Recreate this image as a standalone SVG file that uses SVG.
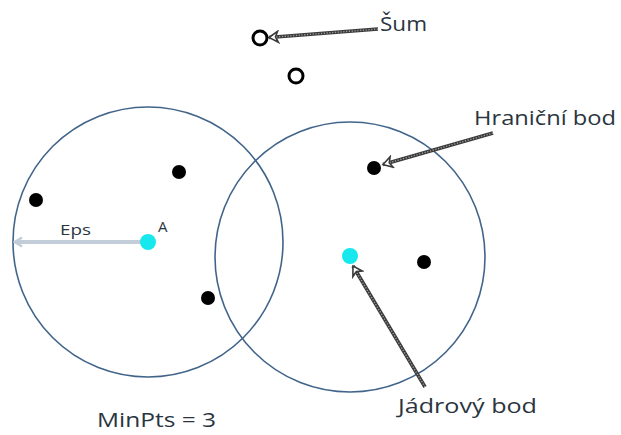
<svg xmlns="http://www.w3.org/2000/svg" width="621" height="435" viewBox="0 0 621 435">
  <style>
    .nbhd { fill: none; stroke: #41648a; stroke-width: 1.6; }
    .pt { fill: #000; }
    .core { fill: #16e8ee; }
    .noise { fill: #fff; stroke: #000; stroke-width: 3; }
    .lbl { font-family: "Open Sans", "Liberation Sans", sans-serif; fill: #2a3540; }
    .call-out { stroke: #3a3a3a; stroke-width: 3.6; fill: none; }
    .call-in { stroke: #a0a0a0; stroke-width: 1.4; stroke-dasharray: 1.2 1.6; fill: none; }
    .eps { stroke: #c3ccd9; stroke-width: 4; fill: none; }
  </style>
  <defs>
    <!-- open chevron head for the callout arrows; tip sits at the line end -->
    <marker id="openHead" markerWidth="14" markerHeight="14" refX="12" refY="7" orient="auto" markerUnits="userSpaceOnUse" viewBox="0 0 14 14">
      <path d="M3,1.5 L12,7 L3,12.5 L5.5,7 Z" fill="#fff" stroke="#3a3a3a" stroke-width="1.6" stroke-linejoin="miter"/>
    </marker>
    <marker id="epsHead" markerWidth="12" markerHeight="12" refX="10" refY="6" orient="auto" markerUnits="userSpaceOnUse" viewBox="0 0 12 12">
      <path d="M3,1.5 L10,6 L3,10.5" fill="none" stroke="#c3ccd9" stroke-width="2.5"/>
    </marker>
  </defs>

  <!-- Eps-neighbourhoods -->
  <g id="neighbourhood-A">
    <circle class="nbhd" cx="148" cy="242" r="135"/>
  </g>
  <g id="neighbourhood-core">
    <circle class="nbhd" cx="350" cy="257" r="135"/>
  </g>

  <!-- Connectors -->
  <g id="connectors">
    <line class="eps" x1="146" y1="242" x2="15" y2="242" marker-end="url(#epsHead)"/>
    <g id="arrow-noise">
      <line class="call-out" x1="378" y1="29" x2="269" y2="37.5" marker-end="url(#openHead)"/>
      <line class="call-in" x1="378" y1="29" x2="276" y2="37"/>
    </g>
    <g id="arrow-border">
      <line class="call-out" x1="493" y1="133" x2="383" y2="164.5" marker-end="url(#openHead)"/>
      <line class="call-in" x1="493" y1="133" x2="390" y2="162.5"/>
    </g>
    <g id="arrow-core">
      <line class="call-out" x1="425" y1="387" x2="353" y2="266" marker-end="url(#openHead)"/>
      <line class="call-in" x1="425" y1="387" x2="357" y2="273"/>
    </g>
  </g>

  <!-- Points -->
  <g id="point-1"><circle class="pt" cx="179" cy="172" r="7"/></g>
  <g id="point-2"><circle class="pt" cx="36" cy="200" r="7"/></g>
  <g id="point-3"><circle class="pt" cx="208" cy="298" r="7"/></g>
  <g id="point-4"><circle class="pt" cx="374" cy="168" r="7"/></g>
  <g id="point-5"><circle class="pt" cx="424" cy="262" r="7"/></g>
  <g id="point-A"><circle class="core" cx="148" cy="242" r="8"/></g>
  <g id="point-core"><circle class="core" cx="350" cy="256" r="8"/></g>
  <g id="noise-1"><circle class="noise" cx="260" cy="38" r="7"/></g>
  <g id="noise-2"><circle class="noise" cx="296" cy="76" r="7"/></g>

  <!-- Labels -->
  <g id="labels">
    <text class="lbl" x="380" y="31" font-size="20" textLength="47" lengthAdjust="spacingAndGlyphs">Šum</text>
    <text class="lbl" x="474" y="125" font-size="20" textLength="142" lengthAdjust="spacingAndGlyphs">Hraniční bod</text>
    <text class="lbl" x="398" y="413" font-size="20" textLength="139" lengthAdjust="spacingAndGlyphs">Jádrový bod</text>
    <text class="lbl" x="97" y="427" font-size="20" textLength="119" lengthAdjust="spacingAndGlyphs">MinPts = 3</text>
    <text class="lbl" x="60" y="235" font-size="15" textLength="31" lengthAdjust="spacingAndGlyphs">Eps</text>
    <text class="lbl" x="158" y="232" font-size="15">A</text>
  </g>
</svg>
